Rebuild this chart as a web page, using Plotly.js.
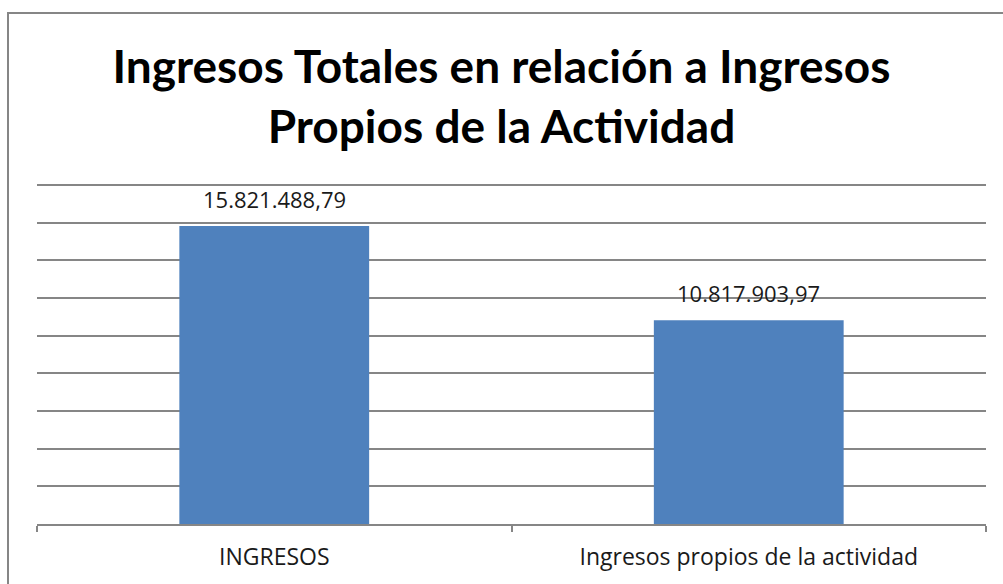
<!DOCTYPE html>
<html>
<head>
<meta charset="utf-8">
<script src="https://cdn.plot.ly/plotly-3.0.1.min.js"></script>
<style>html,body{margin:0;padding:0;background:#fff;}#chart{width:1003px;height:584px;}</style>
</head>
<body>
<div id="chart"></div>
<script>
var categories = ["INGRESOS", "Ingresos propios de la actividad"];
var values = [15821488.79, 10817903.97];
var valueLabels = ["15.821.488,79", "10.817.903,97"];
var titleText = "Ingresos Totales en relación a Ingresos<br>Propios de la Actividad";

var trace = {
  type: "bar",
  x: categories,
  y: values,
  width: 0.4,
  marker: {color: "#4F81BD"},
  hoverinfo: "skip"
};

var annotations = categories.map(function (c, i) {
  return {
    x: c, y: values[i], xref: "x", yref: "y",
    text: valueLabels[i], showarrow: false,
    yanchor: "bottom", yshift: 10,
    font: {family: "Open Sans, sans-serif", size: 22, color: "#1a1a1a"}
  };
});

var layout = {
  width: 1003, height: 584,
  margin: {l: 37, r: 17, t: 183, b: 60},
  paper_bgcolor: "#ffffff", plot_bgcolor: "#ffffff",
  showlegend: false,
  title: {
    text: titleText,
    font: {family: "Lato, sans-serif", size: 46, color: "#000000", weight: "bold"},
    xref: "container", x: 0.5, xanchor: "center",
    yref: "container", y: 1 - 83/584, yanchor: "top"
  },
  xaxis: {
    type: "category",
    showline: true, linecolor: "#868686", linewidth: 2,
    ticks: "outside", tickson: "boundaries", ticklen: 6, tickcolor: "#868686", tickwidth: 2,
    showgrid: false, ticklabelstandoff: 11,
    tickfont: {family: "Open Sans, sans-serif", size: 23, color: "#1a1a1a"}
  },
  yaxis: {
    range: [0, 18100000], dtick: 2000000, tick0: 0,
    showgrid: true, gridcolor: "#868686", gridwidth: 2,
    showticklabels: false, zeroline: false, showline: false, ticks: ""
  },
  annotations: annotations,
  shapes: [{
    type: "rect", xref: "paper", yref: "paper",
    x0: (8 - 37) / 949, x1: 1.1, y0: -0.4, y1: (524 - 13) / 341,
    line: {color: "#868686", width: 2}, layer: "below"
  }]
};

Plotly.newPlot("chart", [trace], layout, {displayModeBar: false, staticPlot: true});
</script>
</body>
</html>
